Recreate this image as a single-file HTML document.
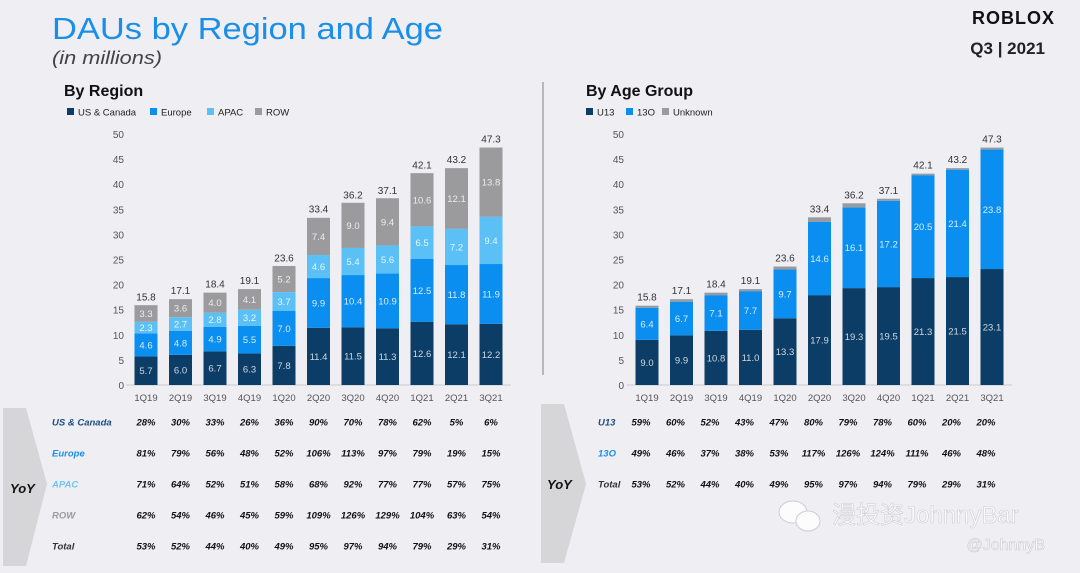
<!DOCTYPE html>
<html><head><meta charset="utf-8"><style>
html,body{margin:0;padding:0;background:#eeeef3;}
body{width:1080px;height:568px;overflow:hidden;font-family:"Liberation Sans","Noto Sans CJK SC",sans-serif;}
</style></head><body>
<svg id="svg" width="1080" height="568" viewBox="0 0 1080 568" xmlns="http://www.w3.org/2000/svg" font-family="Liberation Sans, Noto Sans CJK SC, sans-serif">
<text x="52" y="39" font-size="31" fill="#1a8fe8" textLength="391" lengthAdjust="spacingAndGlyphs">DAUs by Region and Age</text>
<text x="52" y="64" font-size="18" font-style="italic" fill="#444" textLength="110" lengthAdjust="spacingAndGlyphs">(in millions)</text>
<text x="1055" y="24" font-size="18" font-weight="bold" text-anchor="end" fill="#111" letter-spacing="1">ROBLOX</text>
<text x="1045" y="54" font-size="17" font-weight="bold" text-anchor="end" fill="#222">Q3 | 2021</text>
<line x1="543" y1="82" x2="543" y2="375" stroke="#b8b8bc" stroke-width="2"/>
<text x="64" y="96" font-size="16" font-weight="bold" fill="#111">By Region</text>
<text x="586" y="96" font-size="16" font-weight="bold" fill="#111">By Age Group</text>
<polygon points="3,408 26,408 47,484 26,566 3,566" fill="#d6d6d8"/>
<text x="10" y="493" font-size="13" font-weight="bold" font-style="italic" fill="#111">YoY</text>
<polygon points="541,404 564,404 586,484 564,563 541,563" fill="#d6d6d8"/>
<text x="547" y="489" font-size="13" font-weight="bold" font-style="italic" fill="#111">YoY</text>
<g id="wm" opacity="0.85">
<text x="832" y="523" font-size="24" fill="#fff" stroke="#c8c8cc" stroke-width="0.6">漫投资JohnnyBar</text>
<text x="1045" y="550" font-size="16" text-anchor="end" fill="#fff" stroke="#c0c0c4" stroke-width="0.5">@JohnnyB</text>
<ellipse cx="793" cy="512" rx="14" ry="11" fill="#fff" stroke="#c8c8cc"/>
<ellipse cx="808" cy="521" rx="12" ry="10" fill="#fff" stroke="#c8c8cc"/>
</g>
<g id="charts"></g>
</svg>
<script>
const quarters=["1Q19","2Q19","3Q19","4Q19","1Q20","2Q20","3Q20","4Q20","1Q21","2Q21","3Q21"];
const usCanada=[5.7,6.0,6.7,6.3,7.8,11.4,11.5,11.3,12.6,12.1,12.2];
const europe=[4.6,4.8,4.9,5.5,7.0,9.9,10.4,10.9,12.5,11.8,11.9];
const apac=[2.3,2.7,2.8,3.2,3.7,4.6,5.4,5.6,6.5,7.2,9.4];
const row=[3.3,3.6,4.0,4.1,5.2,7.4,9.0,9.4,10.6,12.1,13.8];
const totals=[15.8,17.1,18.4,19.1,23.6,33.4,36.2,37.1,42.1,43.2,47.3];
const u13=[9.0,9.9,10.8,11.0,13.3,17.9,19.3,19.5,21.3,21.5,23.1];
const o13=[6.4,6.7,7.1,7.7,9.7,14.6,16.1,17.2,20.5,21.4,23.8];
const unknown=[0.4,0.5,0.5,0.4,0.6,0.9,0.8,0.4,0.3,0.3,0.4];
const yTicks=[0,5,10,15,20,25,30,35,40,45,50];
const yoyRegionLabels=["US & Canada","Europe","APAC","ROW","Total"];
const yoyUS=["28%","30%","33%","26%","36%","90%","70%","78%","62%","5%","6%"];
const yoyEU=["81%","79%","56%","48%","52%","106%","113%","97%","79%","19%","15%"];
const yoyAPAC=["71%","64%","52%","51%","58%","68%","92%","77%","77%","57%","75%"];
const yoyROW=["62%","54%","46%","45%","59%","109%","126%","129%","104%","63%","54%"];
const yoyTotal=["53%","52%","44%","40%","49%","95%","97%","94%","79%","29%","31%"];
const yoyAgeLabels=["U13","13O","Total"];
const yoyU13=["59%","60%","52%","43%","47%","80%","79%","78%","60%","20%","20%"];
const yoyO13=["49%","46%","37%","38%","53%","117%","126%","124%","111%","46%","48%"];

const NS="http://www.w3.org/2000/svg";
const g=document.getElementById('charts');
function el(tag,attrs,txt){const e=document.createElementNS(NS,tag);for(const k in attrs)e.setAttribute(k,attrs[k]);if(txt!==undefined)e.textContent=txt;g.appendChild(e);return e;}
const C={navy:"#0b3d66",blue:"#0a8ff0",light:"#5bc0f5",gray:"#9b9b9e"};

function chart(x0,axisX,series,colors,names,labelFill,legendX,legendNames,legendGaps,valueShow){
  const y=v=>385-v*5.02;
  const x=i=>x0+i*34.5;
  yTicks.forEach(t=>{const e=el('text',{x:axisX,y:y(t)+4,'font-size':10,'text-anchor':'end',fill:'#555'},t);

});
  const base=el('line',{x1:x(0)-20,x2:x(10)+20,y1:385,y2:385,stroke:'#ccc'});
  
  
  quarters.forEach((q,i)=>{
    let acc=0;
    series.forEach((s,k)=>{
      const v=s[i];const top=y(acc+v),bot=y(acc);
      const r=el('rect',{x:x(i)-11.5,y:top,width:23,height:bot-top,fill:colors[k]});
      
      
      if(valueShow[k]){const t=el('text',{x:x(i),y:(top+bot)/2+3.5,'font-size':9.5,'text-anchor':'middle',fill:labelFill[k]},v.toFixed(1));
        
        }
      acc+=v;
    });
    const tt=el('text',{x:x(i),y:y(totals[i])-5,'font-size':10,'text-anchor':'middle',fill:'#333'},totals[i].toFixed(1));
    
    
    const ql=el('text',{x:x(i),y:401,'font-size':9.5,'text-anchor':'middle',fill:'#555'},q);
    
    
  });
  let lx=legendX;
  legendNames.forEach((n,k)=>{
    const sq=el('rect',{x:lx,y:108,width:7,height:7,fill:colors[k]});
    
    
    const t=el('text',{x:lx+11,y:115.5,'font-size':9.5,fill:'#222'},n);
    
    
    lx+=legendGaps[k];
  });
  return x;
}
const xl=chart(146,124,[usCanada,europe,apac,row],[C.navy,C.blue,C.light,C.gray],["us-canada","europe","apac","row"],["#cfd8e3","#d7ecfc","#e6f6fe","#ececec"],67,["US & Canada","Europe","APAC","ROW"],[83,57,48,40],[1,1,1,1]);
const xr=chart(647,624,[u13,o13,unknown],[C.navy,C.blue,C.gray],["u13","13o","unknown"],["#cfd8e3","#d7ecfc","#eee"],586,["U13","13O","Unknown"],[40,36,60],[1,1,0]);

function table(labels,rows,colors,labelX,ys,xf){
  labels.forEach((lab,r)=>{
    const t=el('text',{x:labelX,y:ys[r]+3.5,'font-size':9.5,'font-weight':'bold','font-style':'italic',fill:colors[r]},lab);
    
    
    rows[r].forEach((v,i)=>{const c=el('text',{x:xf(i),y:ys[r]+3.5,'font-size':9.5,'font-weight':'bold','font-style':'italic','text-anchor':'middle',fill:'#111'},v);
      
      });
  });
}
table(yoyRegionLabels,[yoyUS,yoyEU,yoyAPAC,yoyROW,yoyTotal],["#1d4f85","#1a8fe8","#6cc5f5","#9b9b9e","#333"],52,[422,453,484,515,546],xl);
table(yoyAgeLabels,[yoyU13,yoyO13,yoyTotal],["#1d4f85","#1a8fe8","#333"],598,[422,453,484],i=>xr(i)-6);
</script>
</body></html>
